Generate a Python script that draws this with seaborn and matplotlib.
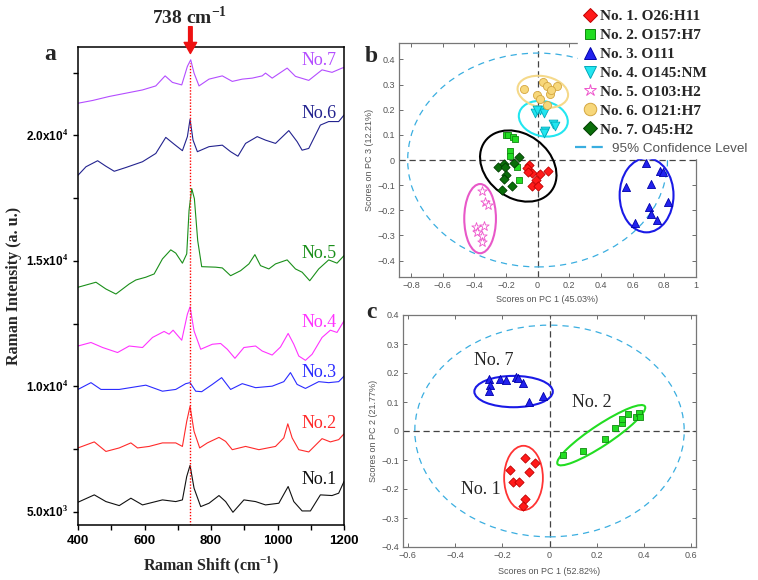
import numpy as np
import pandas as pd
import matplotlib
matplotlib.use("Agg")
import matplotlib.pyplot as plt
import seaborn as sns
from matplotlib.patches import Ellipse
from matplotlib.lines import Line2D
from matplotlib.ticker import MultipleLocator, FuncFormatter, FixedLocator

# ---------------- Panel a: Raman spectra ----------------
wn1 = [400, 449, 484, 524, 559, 594, 654, 694, 714, 727, 737, 749, 769, 794, 824, 844, 866, 899, 934, 964,
       1004, 1032, 1049, 1074, 1099, 1129, 1164, 1184, 1200]
int1 = [5387, 5680, 5413, 5253, 5547, 5280, 5480, 5413, 5480, 6413, 6853, 5947, 5213, 5347, 5653, 5413, 4987,
        5480, 5413, 5280, 5347, 6013, 5413, 5040, 5040, 5680, 5653, 5747, 6213]
wn2 = [400, 449, 484, 524, 559, 579, 614, 654, 694, 714, 727, 737, 749, 766, 789, 824, 844, 864, 904, 944,
       994, 1019, 1031, 1044, 1064, 1094, 1134, 1159, 1184, 1200]
int2 = [7550, 7790, 7410, 7550, 7750, 7550, 7610, 7750, 7750, 7610, 8610, 9210, 8210, 7550, 7750, 7970, 7810,
        7480, 7610, 7480, 7610, 7950, 8510, 7950, 7480, 7390, 7920, 7790, 7880, 8110]
wn3 = [400, 439, 469, 524, 604, 654, 694, 724, 737, 754, 772, 804, 832, 859, 894, 934, 984, 1019, 1039, 1059,
       1084, 1124, 1154, 1184, 1200]
int3 = [9880, 10150, 9880, 9880, 10050, 9810, 9880, 10110, 10150, 9810, 9790, 10080, 10350, 9880, 10110, 9950,
        10010, 10190, 10550, 10080, 9920, 10190, 10150, 10190, 10410]
wn4 = [400, 439, 474, 519, 554, 594, 624, 659, 674, 686, 712, 729, 737, 749, 769, 804, 829, 849, 872, 899,
       934, 954, 984, 1009, 1032, 1049, 1064, 1084, 1104, 1134, 1159, 1179, 1200]
int4 = [11610, 11750, 11550, 11350, 11610, 11550, 11950, 12190, 12080, 12240, 11840, 12880, 13170, 12210, 11480,
        11680, 11710, 11480, 11120, 11550, 11610, 11410, 11250, 11570, 12110, 11680, 11210, 11040, 11280, 11950,
        12240, 12150, 12610]
wn5 = [400, 454, 484, 514, 554, 574, 604, 629, 654, 679, 694, 714, 727, 734, 742, 750, 760, 772, 814, 834,
       859, 889, 914, 932, 949, 974, 994, 1029, 1054, 1074, 1097, 1124, 1154, 1179, 1200]
int5 = [13950, 14150, 13880, 13680, 14080, 14240, 14350, 14480, 15080, 15440, 15310, 14910, 15280, 17010, 17880,
        17480, 15810, 14770, 14750, 14720, 14410, 14610, 14880, 15250, 14810, 14680, 14880, 15040, 14680, 14550,
        14210, 14680, 15040, 14910, 15210]
wn6 = [400, 424, 459, 484, 509, 544, 594, 634, 664, 689, 714, 729, 737, 746, 759, 794, 834, 859, 881, 904,
       939, 964, 994, 1034, 1059, 1074, 1094, 1129, 1154, 1184, 1200]
int6 = [18410, 18750, 18990, 18770, 18570, 18720, 18950, 19280, 19920, 19650, 19390, 19950, 20640, 19810, 19350,
        19550, 19610, 19350, 19170, 19680, 19950, 19810, 19680, 20190, 19750, 19410, 19480, 20410, 20550, 20550,
        20810]
wn7 = [400, 444, 494, 544, 594, 634, 662, 684, 712, 729, 739, 749, 764, 794, 834, 864, 894, 924, 954, 964,
       984, 1029, 1054, 1094, 1134, 1164, 1194, 1200]
int7 = [21280, 21390, 21550, 21680, 21810, 21970, 22370, 22110, 22010, 22750, 23010, 22480, 21970, 22240, 22370,
        22150, 22240, 22280, 22370, 22480, 22280, 22680, 22350, 22190, 22610, 22510, 22680, 22700]

spec_names = ["No.1", "No.2", "No.3", "No.4", "No.5", "No.6", "No.7"]
spec_colors = ["#111111", "#ff2a2a", "#2b2bff", "#ff33ff", "#1a8f1a", "#23238f", "#b44dff"]
label_y = [6280, 8520, 10560, 12560, 15280, 20880, 23000]
ytick_vals = [5000, 10000, 15000, 20000]
ytick_labels = ["5.0x10$^{\\mathbf{3}}$", "1.0x10$^{\\mathbf{4}}$", "1.5x10$^{\\mathbf{4}}$", "2.0x10$^{\\mathbf{4}}$"]
peak_wn = 738

# ---------------- Panel b: PCA (PC1 vs PC3) ----------------
b1x = [-0.057, -0.068, -0.036, -0.059, 0.017, 0.063, -0.009, -0.034, 0.000]
b1y = [-0.020, -0.033, -0.050, -0.046, -0.056, -0.045, -0.079, -0.102, -0.103]
b2x = [-0.200, -0.190, -0.158, -0.142, -0.177, -0.177, -0.131, -0.120]
b2y = [0.099, 0.099, 0.090, 0.082, 0.037, 0.016, -0.029, -0.079]
b3x = [0.686, 0.555, 0.772, 0.793, 0.719, 0.823, 0.704, 0.715, 0.751, 0.618]
b3y = [-0.013, -0.109, -0.044, -0.049, -0.095, -0.166, -0.188, -0.215, -0.238, -0.249]
b4x = [-0.019, 0.012, 0.038, -0.004, 0.048, 0.095, 0.108, 0.038]
b4y = [0.185, 0.199, 0.185, 0.199, 0.117, 0.143, 0.135, 0.109]
b5x = [-0.348, -0.335, -0.316, -0.392, -0.338, -0.380, -0.348, -0.350]
b5y = [-0.122, -0.168, -0.179, -0.268, -0.261, -0.287, -0.301, -0.325]
b6x = [-0.084, 0.036, 0.059, 0.122, -0.004, 0.013, 0.076, 0.084, 0.059]
b6y = [0.281, 0.309, 0.294, 0.294, 0.258, 0.241, 0.262, 0.278, 0.219]
b7x = [-0.120, -0.146, -0.247, -0.215, -0.205, -0.198, -0.209, -0.162, -0.226]
b7y = [0.013, -0.013, -0.026, -0.017, -0.026, -0.060, -0.077, -0.103, -0.119]
legend_labels = ["No. 1. O26:H11", "No. 2. O157:H7", "No. 3. O111", "No. 4. O145:NM",
                 "No. 5. O103:H2", "No. 6. O121:H7", "No. 7. O45:H2"]
conf_label = "95% Confidence Level"

# ---------------- Panel c: PCA (PC1 vs PC2) ----------------
c7x = [-0.255, -0.251, -0.258, -0.208, -0.183, -0.141, -0.135, -0.114, -0.087, -0.029]
c7y = [0.179, 0.159, 0.139, 0.181, 0.177, 0.187, 0.183, 0.164, 0.101, 0.119]
c2x = [0.056, 0.142, 0.234, 0.279, 0.306, 0.306, 0.331, 0.365, 0.379, 0.382]
c2y = [-0.082, -0.068, -0.026, 0.011, 0.027, 0.041, 0.057, 0.048, 0.063, 0.050]
c1x = [-0.102, -0.060, -0.166, -0.086, -0.156, -0.128, -0.102, -0.114]
c1y = [-0.094, -0.111, -0.135, -0.141, -0.176, -0.175, -0.233, -0.258]

# ---------------------------------------------------------------
sns.set_theme(style="ticks")
plt.rcParams["font.family"] = ["Liberation Sans", "DejaVu Sans"]
plt.rcParams["mathtext.fontset"] = "custom"
plt.rcParams["mathtext.rm"] = "Liberation Serif"
plt.rcParams["mathtext.bf"] = "Liberation Serif:bold"

W, H = 758, 580
fig = plt.figure(figsize=(W / 100, H / 100), dpi=100)


def rect(l, t, r, b):
    return [l / W, 1 - b / H, (r - l) / W, (b - t) / H]


SERIF = "Liberation Serif"
SANS = "Liberation Sans"

# ---------------- Panel a ----------------
axa = fig.add_axes(rect(78, 47, 344, 525))
wns = [wn1, wn2, wn3, wn4, wn5, wn6, wn7]
ints = [int1, int2, int3, int4, int5, int6, int7]
for name, w, iv, col in zip(spec_names, wns, ints, spec_colors):
    df = pd.DataFrame({"wn": w, "I": iv})
    sns.lineplot(data=df, x="wn", y="I", ax=axa, color=col, lw=0.8, estimator=None, sort=False)
for name, ly, col in zip(spec_names, label_y, spec_colors):
    axa.text(1125, ly, name, color=col, fontsize=13, family=SERIF, ha="center", va="center")

axa.set_xlim(400, 1200)
axa.set_ylim(4480, 23520)
axa.axvline(peak_wn, ymax=0.967, color="red", ls=(0, (1.0, 1.2)), lw=1.0)
axa.set_xticks([400, 600, 800, 1000, 1200])
axa.set_xticklabels(["400", "600", "800", "1000", "1200"], fontweight="bold", family=SANS, fontsize=9.5)
axa.xaxis.set_minor_locator(MultipleLocator(100))
axa.set_yticks(ytick_vals)
axa.set_yticklabels(ytick_labels, fontweight="bold", family=SANS, fontsize=8.5)
axa.yaxis.set_minor_locator(MultipleLocator(2500))
axa.tick_params(axis="both", which="both", direction="out", length=3.5, width=1, colors="black",
                top=False, right=False)
for s in axa.spines.values():
    s.set_linewidth(1.1)
    s.set_color("black")
    s.set_visible(True)
axa.set_xlabel(r"Raman Shift (cm$^{\mathbf{-1}}$)", fontsize=11.5, fontweight="bold", family=SERIF)
axa.set_ylabel("Raman Intensity (a. u.)", fontsize=11.5, fontweight="bold", family=SERIF)
axa.xaxis.set_label_coords(0.5, -0.062)
axa.yaxis.set_label_coords(-0.21, 0.5)

# arrow and peak label
axa.annotate("", xy=(peak_wn, 23260), xytext=(peak_wn, 24330), xycoords="data",
             arrowprops=dict(facecolor="#ee1111", edgecolor="#ee1111", width=2.6, headwidth=9,
                             headlength=8), annotation_clip=False)
fig.text(190 / W, 1 - 17 / H, r"738 cm$^{\mathbf{-1}}$", fontsize=14, fontweight="bold", family=SERIF,
         ha="center", va="center")

# panel letters
for letter, px, py in [("a", 50, 55), ("b", 371, 56), ("c", 371, 312)]:
    fig.text(px / W, 1 - py / H, letter, fontsize=17, fontweight="bold", family=SERIF,
             ha="center", va="center")

CONF = "#3aaee0"
GRAY = "#555555"


def tickfmt(v, p):
    if abs(v) < 1e-9:
        return "0"
    return f"{v:g}".replace("-", "\u2212")


def matlab_style(ax):
    ax.tick_params(axis="both", which="both", direction="in", top=True, right=True, length=3,
                   width=0.6, color="#555555", labelcolor="#555555", labelsize=6.5, pad=3)
    for s in ax.spines.values():
        s.set_visible(True)
        s.set_color("#777777")
        s.set_linewidth(0.9)
    ax.xaxis.set_major_formatter(FuncFormatter(tickfmt))
    ax.yaxis.set_major_formatter(FuncFormatter(tickfmt))
    ax.axhline(0, color="#444444", ls=(0, (5, 3)), lw=0.9, zorder=1)
    ax.axvline(0, color="#444444", ls=(0, (5, 3)), lw=0.9, zorder=1)


# ---------------- Panel b ----------------
axb = fig.add_axes(rect(399, 43, 696, 277))
matlab_style(axb)
b_groups = [
    (b1x, b1y, "D", 22, "#ff1a1a", "#c00000"),
    (b2x, b2y, "s", 22, "#22dd22", "#118811"),
    (b3x, b3y, "^", 34, "#2222ee", "#0000aa"),
    (b4x, b4y, "v", 40, "#22e6f0", "#00aabb"),
    (b5x, b5y, "*", 50, "white", "#ee55cc"),
    (b6x, b6y, "o", 34, "#f7d77a", "#d4a640"),
    (b7x, b7y, "D", 22, "#0a6e0a", "#003c00"),
]
for gx, gy, mk, sz, fc, ec in b_groups:
    sns.scatterplot(x=gx, y=gy, ax=axb, marker=mk, s=sz, color=fc, edgecolor=ec, linewidth=0.6, zorder=3)
axb.add_patch(Ellipse((0, 0), 1.64, 0.85, fill=False, ec=CONF, ls=(0, (5, 4)), lw=0.9, zorder=2))
axb.add_patch(Ellipse((-0.122, -0.024), 0.49, 0.27, angle=-12, fill=False, ec="black", lw=1.5, zorder=2))
axb.add_patch(Ellipse((0.036, 0.164), 0.31, 0.14, angle=-5, fill=False, ec="#22e6f0", lw=1.5, zorder=2))
axb.add_patch(Ellipse((0.033, 0.271), 0.32, 0.125, angle=-5, fill=False, ec="#f5d98a", lw=1.5, zorder=2))
axb.add_patch(Ellipse((-0.363, -0.233), 0.2, 0.275, fill=False, ec="#e858c8", lw=1.5, zorder=2))
axb.add_patch(Ellipse((0.688, -0.14), 0.34, 0.295, fill=False, ec="#1a1ae6", lw=1.5, zorder=2))
axb.set_xlim(-0.875, 1.0)
axb.set_ylim(-0.465, 0.465)
axb.xaxis.set_major_locator(FixedLocator(np.round(np.arange(-0.8, 1.01, 0.2), 1)))
axb.yaxis.set_major_locator(FixedLocator(np.round(np.arange(-0.4, 0.41, 0.1), 1)))
axb.set_xlabel("Scores on PC 1 (45.03%)", fontsize=6.5, color=GRAY)
axb.set_ylabel("Scores on PC 3 (12.21%)", fontsize=6.5, color=GRAY)
axb.xaxis.set_label_coords(0.5, -0.075)
axb.yaxis.set_label_coords(-0.085, 0.5)

handles = []
for gx, gy, mk, sz, fc, ec in b_groups:
    handles.append(Line2D([], [], marker=mk, ls="none", markerfacecolor=fc, markeredgecolor=ec,
                          markersize=9 if mk in ("^", "v", "*", "o") else 7, markeredgewidth=0.7))
leg1 = fig.legend(handles, legend_labels, loc="upper left", bbox_to_anchor=(578 / W, 1 - 5 / H),
                  frameon=True, fancybox=False, framealpha=1, facecolor="white", edgecolor="white",
                  prop={"family": SERIF, "weight": "bold", "size": 11}, labelspacing=0.34,
                  handlelength=1.0, handletextpad=0.15, borderpad=0.3, borderaxespad=0)
leg1.set_zorder(10)
conf_handle = Line2D([], [], color=CONF, ls=(0, (5, 2.5)), lw=1.6)
leg2 = fig.legend([conf_handle], [conf_label], loc="upper left", bbox_to_anchor=(572 / W, 1 - 140 / H),
                  frameon=True, fancybox=False, framealpha=1, facecolor="white", edgecolor="white",
                  prop={"family": SANS, "size": 9.7}, labelcolor="#555555",
                  handlelength=2.07, handletextpad=0.67, borderpad=0.2, borderaxespad=0)
leg2.set_zorder(10)

# ---------------- Panel c ----------------
axc = fig.add_axes(rect(403, 315, 696, 547))
matlab_style(axc)
c_groups = [
    (c7x, c7y, "^", 34, "#2222ee", "#0000aa"),
    (c2x, c2y, "s", 22, "#22dd22", "#118811"),
    (c1x, c1y, "D", 22, "#ff1a1a", "#c00000"),
]
for gx, gy, mk, sz, fc, ec in c_groups:
    sns.scatterplot(x=gx, y=gy, ax=axc, marker=mk, s=sz, color=fc, edgecolor=ec, linewidth=0.6, zorder=3)
axc.add_patch(Ellipse((0, 0), 1.14, 0.73, fill=False, ec=CONF, ls=(0, (5, 4)), lw=0.9, zorder=2))
axc.add_patch(Ellipse((-0.152, 0.136), 0.332, 0.108, fill=False, ec="#1a1ae6", lw=1.5, zorder=2))
axc.add_patch(Ellipse((0.219, -0.0145), 0.42, 0.075, angle=28, fill=False, ec="#22dd22", lw=1.5, zorder=2))
axc.add_patch(Ellipse((-0.11, -0.162), 0.164, 0.222, fill=False, ec="#ff3333", lw=1.3, zorder=2))
axc.text(-0.237, 0.242, "No. 7", fontsize=13, family=SERIF, ha="center", va="center")
axc.text(0.18, 0.098, "No. 2", fontsize=13, family=SERIF, ha="center", va="center")
axc.text(-0.289, -0.201, "No. 1", fontsize=13, family=SERIF, ha="center", va="center")
axc.set_xlim(-0.62, 0.62)
axc.set_ylim(-0.4, 0.4)
axc.xaxis.set_major_locator(FixedLocator(np.round(np.arange(-0.6, 0.61, 0.2), 1)))
axc.yaxis.set_major_locator(FixedLocator(np.round(np.arange(-0.4, 0.41, 0.1), 1)))
axc.set_xlabel("Scores on PC 1 (52.82%)", fontsize=6.5, color=GRAY)
axc.set_ylabel("Scores on PC 2 (21.77%)", fontsize=6.5, color=GRAY)
axc.xaxis.set_label_coords(0.5, -0.085)
axc.yaxis.set_label_coords(-0.085, 0.5)

fig.savefig("out.png", dpi=100)
